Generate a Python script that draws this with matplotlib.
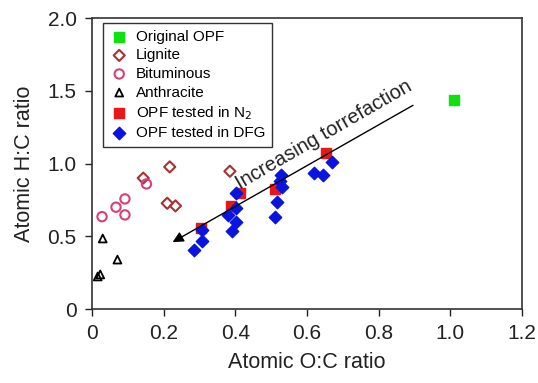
import matplotlib
matplotlib.use('Agg')
import matplotlib.pyplot as plt

plt.rcParams['font.family'] = ['Liberation Sans', 'DejaVu Sans']

# values (atomic O:C, atomic H:C)
orig_oc = [1.01]
orig_hc = [1.44]

lignite_oc = [0.143, 0.217, 0.21, 0.233, 0.385]
lignite_hc = [0.90, 0.977, 0.727, 0.709, 0.947]

bitum_oc = [0.028, 0.067, 0.092, 0.092, 0.152]
bitum_hc = [0.635, 0.70, 0.757, 0.647, 0.86]

anthr_oc = [0.03, 0.071, 0.023, 0.016]
anthr_hc = [0.485, 0.34, 0.238, 0.224]

n2_oc = [0.305, 0.388, 0.414, 0.51, 0.654]
n2_hc = [0.554, 0.71, 0.797, 0.825, 1.074]

dfg_oc = [0.286, 0.307, 0.307, 0.379, 0.402, 0.402, 0.402, 0.39,
          0.512, 0.517, 0.528, 0.524, 0.531, 0.619, 0.644, 0.669]
dfg_hc = [0.404, 0.469, 0.543, 0.647, 0.797, 0.693, 0.60, 0.538,
          0.635, 0.734, 0.924, 0.877, 0.836, 0.935, 0.924, 1.009]

x_ticks = [0, 0.2, 0.4, 0.6, 0.8, 1.0, 1.2]
x_ticklabels = ['0', '0.2', '0.4', '0.6', '0.8', '1.0', '1.2']
y_ticks = [0, 0.5, 1.0, 1.5, 2.0]
y_ticklabels = ['0', '0.5', '1.0', '1.5', '2.0']

fig = plt.figure(figsize=(5.38, 3.83), dpi=100)
ax = fig.add_axes([0.171, 0.193, 0.799, 0.760])

ax.scatter(orig_oc, orig_hc, marker='s', s=45, color='#10e010', label='Original OPF', zorder=3)
ax.scatter(lignite_oc, lignite_hc, marker='D', s=32, facecolors='none',
           edgecolors='#a83232', linewidths=1.5, label='Lignite', zorder=3)
ax.scatter(bitum_oc, bitum_hc, marker='o', s=45, facecolors='none',
           edgecolors='#d8407a', linewidths=1.5, label='Bituminous', zorder=3)
ax.scatter(anthr_oc, anthr_hc, marker='^', s=32, facecolors='none',
           edgecolors='black', linewidths=1.3, label='Anthracite', zorder=3)
ax.scatter(n2_oc, n2_hc, marker='s', s=55, color='#e81818', label='OPF tested in N$_2$', zorder=3)
ax.scatter(dfg_oc, dfg_hc, marker='D', s=40, color='#0a14e0', label='OPF tested in DFG', zorder=4)

ax.annotate('', xy=(0.225, 0.46), xytext=(0.896, 1.40),
            arrowprops=dict(arrowstyle='-|>', color='black', lw=1.0,
                            mutation_scale=16, shrinkA=0, shrinkB=0), zorder=5)
ax.text(0.648, 1.195, 'Increasing torrefaction', rotation=30, rotation_mode='anchor',
        ha='center', va='center', fontsize=14.5, color='#222222')

ax.set_xlim(0, 1.2)
ax.set_ylim(0, 2.0)
ax.set_xticks(x_ticks)
ax.set_xticklabels(x_ticklabels)
ax.set_yticks(y_ticks)
ax.set_yticklabels(y_ticklabels)
ax.tick_params(direction='out', length=5, width=1, labelsize=15, colors='#222222',
               top=False, right=False, pad=6)
for sp in ax.spines.values():
    sp.set_linewidth(1.2)
    sp.set_color('#333333')

ax.set_xlabel('Atomic O:C ratio', fontsize=15.5, color='#222222', labelpad=6)
ax.set_ylabel('Atomic H:C ratio', fontsize=15.5, color='#222222', labelpad=9)

leg = ax.legend(loc='upper left', bbox_to_anchor=(0.026, 0.983), fontsize=11,
                frameon=True, fancybox=False, edgecolor='#333333', framealpha=1,
                handletextpad=0.5, labelspacing=0.3, borderpad=0.45,
                handlelength=1.2, scatterpoints=1, borderaxespad=0)
leg.get_frame().set_linewidth(1.0)

fig.savefig('out.png', dpi=100)
